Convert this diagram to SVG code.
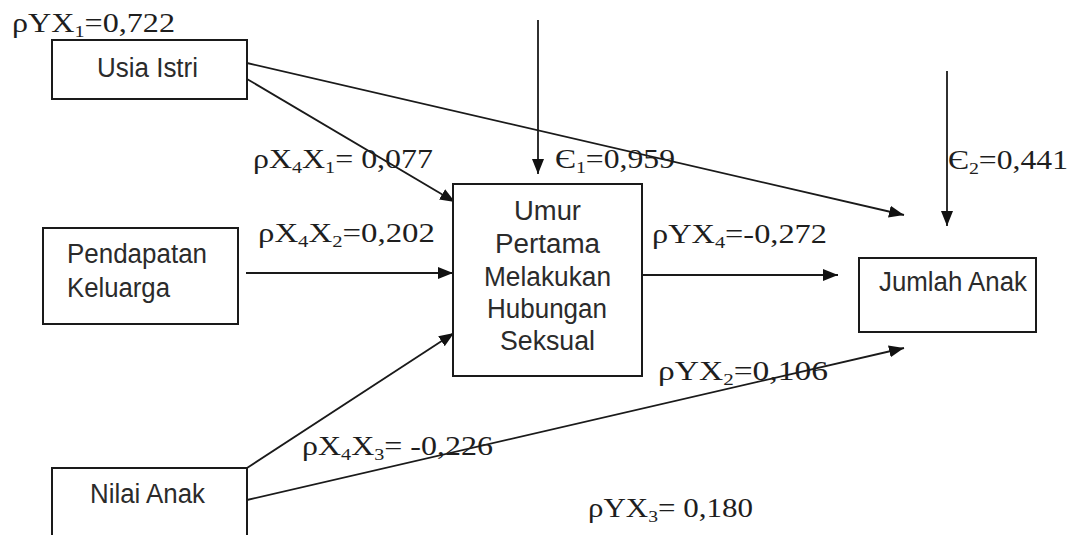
<svg xmlns="http://www.w3.org/2000/svg" width="1073" height="535" viewBox="0 0 1073 535">
<defs>
<marker id="ah" markerUnits="userSpaceOnUse" markerWidth="16" markerHeight="12" refX="15" refY="6" orient="auto">
<path d="M0,0 L15,6 L0,12 z" fill="#111"/>
</marker>
<style>
.box{fill:#fff;stroke:#1a1a1a;stroke-width:2}
.ln{stroke:#1a1a1a;stroke-width:1.8;fill:none;marker-end:url(#ah)}
.nt{font-family:"Liberation Sans",Arial,sans-serif;font-size:27px;fill:#2b2b2b}
.lb{font-family:"Liberation Serif","Times New Roman",serif;font-size:27px;fill:#1e1e1e}
.s{font-size:17px}
</style>
</defs>
<rect width="1073" height="535" fill="#fff"/>
<g id="connectors">
<line class="ln" x1="538" y1="20" x2="538" y2="174"/>
<line class="ln" x1="947" y1="71" x2="947" y2="226"/>
<line class="ln" x1="247" y1="63" x2="904" y2="215"/>
<line class="ln" x1="247" y1="79" x2="455" y2="202"/>
<line class="ln" x1="246" y1="273" x2="453" y2="273"/>
<line class="ln" x1="642" y1="275" x2="838" y2="275"/>
<line class="ln" x1="247" y1="468" x2="454" y2="333"/>
<line class="ln" x1="247" y1="500" x2="904" y2="348"/>
</g>
<g id="usia-istri">
<rect class="box" x="52" y="40" width="195" height="59"/>
<text class="nt" x="97" y="77" textLength="101" lengthAdjust="spacingAndGlyphs">Usia Istri</text>
</g>
<g id="pendapatan-keluarga">
<rect class="box" x="43" y="228" width="195" height="96"/>
<text class="nt" x="67" y="263" textLength="140" lengthAdjust="spacingAndGlyphs">Pendapatan</text>
<text class="nt" x="67" y="297" textLength="103" lengthAdjust="spacingAndGlyphs">Keluarga</text>
</g>
<g id="nilai-anak">
<rect class="box" x="52" y="468" width="195" height="80"/>
<text class="nt" x="90" y="503" textLength="115" lengthAdjust="spacingAndGlyphs">Nilai Anak</text>
</g>
<g id="umur-pertama">
<rect class="box" x="453" y="184" width="189" height="192"/>
<text class="nt" x="514" y="220" textLength="67" lengthAdjust="spacingAndGlyphs">Umur</text>
<text class="nt" x="495" y="253" textLength="105" lengthAdjust="spacingAndGlyphs">Pertama</text>
<text class="nt" x="484" y="286" textLength="127" lengthAdjust="spacingAndGlyphs">Melakukan</text>
<text class="nt" x="487" y="318" textLength="120" lengthAdjust="spacingAndGlyphs">Hubungan</text>
<text class="nt" x="500" y="350" textLength="95" lengthAdjust="spacingAndGlyphs">Seksual</text>
</g>
<g id="jumlah-anak">
<rect class="box" x="859" y="258" width="177" height="74"/>
<text class="nt" x="879" y="291" textLength="148" lengthAdjust="spacingAndGlyphs">Jumlah Anak</text>
</g>
<g id="labels">
<text class="lb" x="12" y="32" textLength="163" lengthAdjust="spacingAndGlyphs">ρYX<tspan class="s" dy="5">1</tspan><tspan dy="-5">=0,722</tspan></text>
<text class="lb" x="253" y="168" textLength="180" lengthAdjust="spacingAndGlyphs">ρX<tspan class="s" dy="5">4</tspan><tspan dy="-5">X</tspan><tspan class="s" dy="5">1</tspan><tspan dy="-5">= 0,077</tspan></text>
<text class="lb" x="555" y="168" textLength="120" lengthAdjust="spacingAndGlyphs">Є<tspan class="s" dy="5">1</tspan><tspan dy="-5">=0,959</tspan></text>
<text class="lb" x="948" y="169" textLength="120" lengthAdjust="spacingAndGlyphs">Є<tspan class="s" dy="5">2</tspan><tspan dy="-5">=0,441</tspan></text>
<text class="lb" x="258" y="242" textLength="177" lengthAdjust="spacingAndGlyphs">ρX<tspan class="s" dy="5">4</tspan><tspan dy="-5">X</tspan><tspan class="s" dy="5">2</tspan><tspan dy="-5">=0,202</tspan></text>
<text class="lb" x="652" y="243" textLength="175" lengthAdjust="spacingAndGlyphs">ρYX<tspan class="s" dy="5">4</tspan><tspan dy="-5">=-0,272</tspan></text>
<text class="lb" x="658" y="380" textLength="170" lengthAdjust="spacingAndGlyphs">ρYX<tspan class="s" dy="5">2</tspan><tspan dy="-5">=0,106</tspan></text>
<text class="lb" x="302" y="455" textLength="191" lengthAdjust="spacingAndGlyphs">ρX<tspan class="s" dy="5">4</tspan><tspan dy="-5">X</tspan><tspan class="s" dy="5">3</tspan><tspan dy="-5">= -0,226</tspan></text>
<text class="lb" x="588" y="517" textLength="165" lengthAdjust="spacingAndGlyphs">ρYX<tspan class="s" dy="5">3</tspan><tspan dy="-5">= 0,180</tspan></text>
</g>
</svg>
